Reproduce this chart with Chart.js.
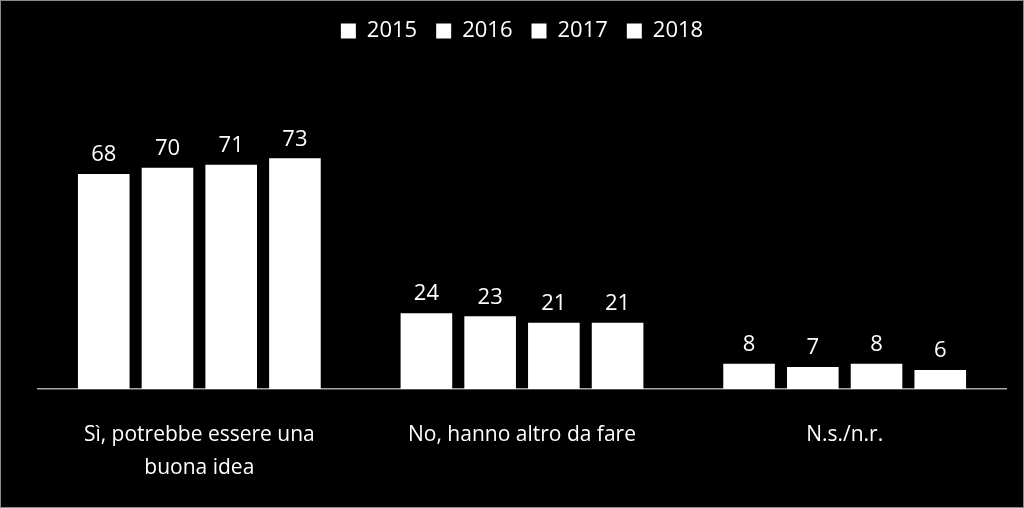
<!DOCTYPE html>
<html>
<head>
<meta charset="utf-8">
<script src="https://cdn.jsdelivr.net/npm/chart.js@4/dist/chart.umd.min.js"></script>
<style>
    html, body { margin: 0; padding: 0; background: #000; }
    #wrap { width: 1022px; height: 506px; border: 1px solid #8a8a8a; background: #000; }
</style>
</head>
<body>
<div id="wrap"><canvas id="barChart" width="1022" height="506"></canvas></div>
<script>
    // dati
    const categorie = [
        ['Sì, potrebbe essere una', 'buona idea'],
        'No, hanno altro da fare',
        'N.s./n.r.'
    ];
    const anni = ['2015', '2016', '2017', '2018'];
    const valori2015 = [68, 24, 8];
    const valori2016 = [70, 23, 7];
    const valori2017 = [71, 21, 8];
    const valori2018 = [73, 21, 6];

    const serie = [valori2015, valori2016, valori2017, valori2018];
    const FONT = "'Open Sans', 'DejaVu Sans', sans-serif";

    // etichette dei valori sopra le barre
    const etichetteValori = {
        id: 'etichetteValori',
        afterDatasetsDraw(chart) {
            const ctx = chart.ctx;
            ctx.save();
            ctx.fillStyle = '#ffffff';
            ctx.font = '22px ' + FONT;
            ctx.textAlign = 'center';
            ctx.textBaseline = 'bottom';
            chart.data.datasets.forEach((ds, i) => {
                chart.getDatasetMeta(i).data.forEach((bar, j) => {
                    ctx.fillText(ds.data[j], bar.x, bar.y - 8);
                });
            });
            ctx.restore();
        }
    };

    // spazio extra sotto la legenda
    const spazioLegenda = {
        id: 'spazioLegenda',
        beforeInit(chart) {
            const fitOrig = chart.legend.fit;
            chart.legend.fit = function () {
                fitOrig.bind(chart.legend)();
                this.height += 21;
            };
        }
    };

    const ctx = document.getElementById('barChart').getContext('2d');
    new Chart(ctx, {
        type: 'bar',
        data: {
            labels: categorie,
            datasets: anni.map((anno, i) => ({
                label: anno,
                data: serie[i],
                backgroundColor: '#ffffff',
                borderWidth: 0,
                barPercentage: 0.81,
                categoryPercentage: 0.79
            }))
        },
        options: {
            responsive: false,
            animation: false,
            layout: {
                padding: { top: 0, left: 37, right: 17, bottom: 0 }
            },
            plugins: {
                legend: {
                    position: 'top',
                    labels: {
                        color: '#ffffff',
                        boxWidth: 15,
                        boxHeight: 15,
                        padding: 19,
                        font: { family: FONT, size: 22 }
                    }
                },
                tooltip: { enabled: false }
            },
            scales: {
                x: {
                    grid: { display: false },
                    border: { display: true, color: '#a6a6a6', width: 1.5 },
                    afterFit(scale) { scale.height = 118; },
                    ticks: {
                        color: '#ffffff',
                        padding: 22,
                        maxRotation: 0,
                        font: { family: FONT, size: 21, lineHeight: 1.55 }
                    }
                },
                y: {
                    display: false,
                    min: 0,
                    max: 100
                }
            }
        },
        plugins: [etichetteValori, spazioLegenda]
    });
</script>
</body>
</html>
